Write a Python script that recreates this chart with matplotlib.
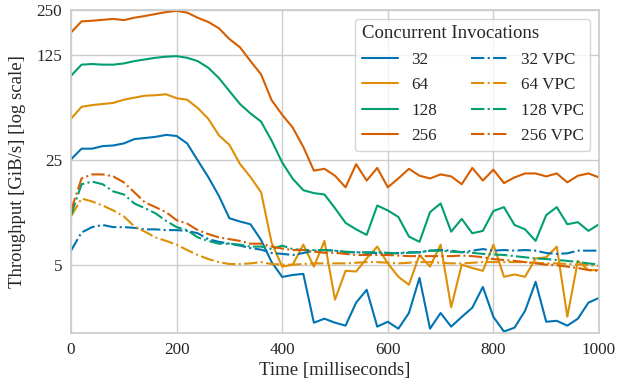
import numpy as np
import matplotlib
matplotlib.use("Agg")
import matplotlib.pyplot as plt
import seaborn as sns
from matplotlib.ticker import FixedLocator, NullLocator, FixedFormatter

# time axis, one sample every 20 ms
time_ms = list(range(0, 1001, 20))

# throughput in GiB/s
tp_32 = [25.2, 29.7, 29.7, 30.9, 31.2, 32.2, 34.4, 35.0, 35.6, 36.7,
         36.1, 32.2, 24.8, 19.2, 14.4, 10.2, 9.7, 9.3, 7.3, 5.2,
         4.14, 4.27, 4.34, 2.05, 2.18, 2.05, 1.96, 2.79, 3.4, 1.93,
         2.08, 1.87, 2.38, 4.08, 1.87, 2.38, 1.93, 2.24, 2.58, 3.55,
         2.24, 1.79, 1.9, 2.46, 3.84, 2.08, 2.11, 1.96, 2.18, 2.79, 3.0]
tp_64 = [47, 56.5, 58, 59, 60, 63, 65, 67, 67.5, 68.5,
         64.5, 63, 55.5, 47, 36.5, 31.5, 23.5, 19.2, 15.2, 7.0,
         4.85, 5.0, 6.8, 4.85, 7.2, 2.92, 4.55, 4.5, 5.5, 6.6,
         5.1, 4.15, 3.67, 5.8, 4.85, 6.8, 2.6, 5.0, 4.75, 4.55,
         6.8, 4.15, 4.3, 4.15, 5.5, 5.6, 6.6, 2.25, 5.3, 4.6, 4.6]
tp_128 = [91, 108, 109, 108, 108, 110, 114, 117, 120, 122,
          123, 120, 114, 103, 88, 72, 59, 51, 45, 33.6,
          24, 18.7, 15.7, 15.0, 14.7, 11.9, 9.5, 8.6, 7.9, 12.4,
          11.5, 10.4, 7.7, 7.1, 11.2, 12.8, 8.3, 10.1, 8.1, 8.4,
          11.4, 12.1, 9.2, 8.6, 7.2, 10.7, 12.1, 9.3, 9.6, 8.4, 9.3]
tp_256 = [177, 210, 212, 215, 218, 214, 222, 228, 235, 242,
          247, 240, 222, 208, 189, 160, 141, 114, 93, 62.5,
          50, 41, 30.5, 21.2, 21.8, 19.6, 16.4, 23.4, 18.2, 22.1,
          16.4, 18.8, 21.8, 19.6, 18.8, 20, 19.4, 17.2, 22.1, 18.2,
          21.5, 17.5, 19.1, 20.3, 20.3, 19.4, 20.3, 17.7, 19.6, 20.3, 19.1]

tp_32_vpc = [6.2, 8.2, 8.9, 9.2, 8.9, 8.9, 8.8, 8.6, 8.6, 8.5,
             8.5, 8.4, 8.1, 7.4, 7.1, 6.9, 6.7, 6.45, 6.3, 5.98,
             5.9, 5.8, 5.98, 6.2, 6.26, 6.2, 6.05, 6.05, 6.0, 5.98,
             5.9, 5.98, 6.05, 6.05, 6.2, 6.26, 6.2, 6.05, 6.2, 6.35,
             6.2, 6.26, 6.2, 6.26, 6.2, 5.98, 5.9, 5.95, 6.2, 6.2, 6.2]
tp_64_vpc = [10.5, 13.8, 13.2, 12.4, 11.5, 10.5, 9.0, 8.3, 7.6, 7.2,
             6.8, 6.26, 5.8, 5.45, 5.2, 5.05, 5.05, 5.1, 5.2, 5.05,
             5.0, 5.0, 5.05, 5.1, 5.1, 5.1, 5.1, 5.15, 5.2, 5.2,
             5.15, 5.1, 5.15, 5.2, 5.2, 5.15, 5.1, 5.1, 5.15, 5.2,
             5.2, 5.2, 5.2, 5.2, 5.15, 5.1, 5.1, 5.05, 5.0, 4.97, 4.9]
tp_128_vpc = [10.7, 17.2, 17.9, 17.2, 15.4, 14.7, 12.8, 11.9, 11.0, 9.8,
              8.9, 8.5, 7.6, 7.2, 6.9, 6.9, 6.8, 6.6, 6.6, 6.35,
              6.7, 6.35, 6.26, 6.26, 6.26, 6.2, 6.1, 6.05, 6.05, 6.05,
              6.0, 5.95, 6.0, 6.05, 6.2, 6.2, 6.1, 6.05, 6.0, 5.9,
              5.85, 5.8, 5.7, 5.6, 5.5, 5.45, 5.37, 5.3, 5.2, 5.1, 5.0]
tp_256_vpc = [11.5, 18.8, 20, 20, 19.4, 17.7, 15.2, 13.0, 12.1, 11.2,
              9.9, 9.4, 8.5, 8.0, 7.6, 7.4, 7.2, 6.9, 6.9, 6.6,
              6.4, 6.26, 6.26, 6.1, 6.0, 6.0, 5.9, 5.8, 5.8, 5.8,
              5.8, 5.75, 5.7, 5.7, 5.7, 5.7, 5.7, 5.75, 5.7, 5.6,
              5.45, 5.37, 5.3, 5.2, 5.1, 5.0, 4.95, 4.85, 4.75, 4.6, 4.55]

labels = ["32", "64", "128", "256"]
y_ticks = [5, 25, 125, 250]
x_ticks = [0, 200, 400, 600, 800, 1000]

FS_SMALL = 12.3   # ticks, legend entries
FS_LARGE = 13.5   # axis labels, legend title

sns.set_theme(style="whitegrid", palette="colorblind")
plt.rcParams['font.family'] = ['Liberation Serif', 'DejaVu Serif']
colors = sns.color_palette("colorblind")

fig = plt.figure(figsize=(6.28, 3.83), dpi=100)
ax = fig.add_axes([71 / 628, 1 - 333 / 383, 528 / 628, 323 / 383])

solid = [tp_32, tp_64, tp_128, tp_256]
vpc = [tp_32_vpc, tp_64_vpc, tp_128_vpc, tp_256_vpc]
for i in range(4):
    ax.plot(time_ms, solid[i], color=colors[i], lw=1.5, label=labels[i])
for i in range(4):
    ax.plot(time_ms, vpc[i], color=colors[i], lw=1.5, ls='-.', label=labels[i] + " VPC")

ax.set_yscale('log')
ax.set_ylim(1.75, 250)
ax.set_xlim(0, 1000)
ax.yaxis.set_major_locator(FixedLocator(y_ticks))
ax.yaxis.set_major_formatter(FixedFormatter([str(v) for v in y_ticks]))
ax.yaxis.set_minor_locator(NullLocator())
ax.set_xticks(x_ticks)
ax.tick_params(labelsize=FS_SMALL, length=0, pad=6.5)

ax.set_xlabel("Time [milliseconds]", fontsize=FS_LARGE, labelpad=3)
ax.set_ylabel("Throughput [GiB/s] [log scale]", fontsize=FS_LARGE, labelpad=7)

ax.legend(ncol=2, title="Concurrent Invocations", loc="upper right",
          fontsize=FS_SMALL, title_fontsize=FS_LARGE, frameon=True,
          columnspacing=2.0, handlelength=2.1, handletextpad=0.8,
          labelspacing=0.55, borderaxespad=0.5, alignment="left")

fig.savefig("out.png", dpi=100)
